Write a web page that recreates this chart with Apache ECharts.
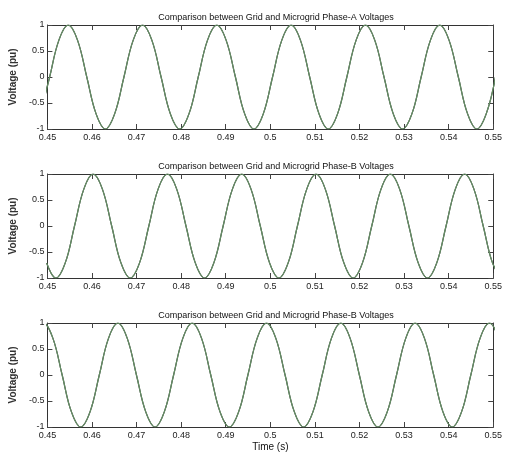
<!DOCTYPE html>
<html>
<head>
<meta charset="utf-8">
<script src="https://cdn.jsdelivr.net/npm/echarts@6/dist/echarts.min.js"></script>
<style>
  html, body { margin: 0; padding: 0; background: #fff; }
  #main { width: 505px; height: 456px; }
</style>
</head>
<body>
<div id="main"></div>
<script>
// sample points (peaks, troughs, crossings, mid-slopes)
var phaseATime = [0.44842, 0.45050, 0.45258, 0.45467, 0.45675, 0.45883, 0.46092, 0.46300, 0.46508, 0.46717,
    0.46925, 0.47133, 0.47342, 0.47550, 0.47758, 0.47967, 0.48175, 0.48383, 0.48592, 0.48800,
    0.49008, 0.49217, 0.49425, 0.49633, 0.49842, 0.50050, 0.50258, 0.50467, 0.50675, 0.50883,
    0.51092, 0.51300, 0.51508, 0.51717, 0.51925, 0.52133, 0.52342, 0.52550, 0.52758, 0.52967,
    0.53175, 0.53383, 0.53592, 0.53800, 0.54008, 0.54217, 0.54425, 0.54633, 0.54842, 0.55050];
var phaseAGrid = [-0.71, 0, 0.71, 1, 0.71, 0, -0.71, -1, -0.71, 0,
    0.71, 1, 0.71, 0, -0.71, -1, -0.71, 0, 0.71, 1,
    0.71, 0, -0.71, -1, -0.71, 0, 0.71, 1, 0.71, 0,
    -0.71, -1, -0.71, 0, 0.71, 1, 0.71, 0, -0.71, -1,
    -0.71, 0, 0.71, 1, 0.71, 0, -0.71, -1, -0.71, 0];
var phaseAMicro = phaseAGrid; // traces sit on top of each other

var phaseBTime = [0.44983, 0.45192, 0.45400, 0.45608, 0.45817, 0.46025, 0.46233, 0.46442, 0.46650, 0.46858,
    0.47067, 0.47275, 0.47483, 0.47692, 0.47900, 0.48108, 0.48317, 0.48525, 0.48733, 0.48942,
    0.49150, 0.49358, 0.49567, 0.49775, 0.49983, 0.50192, 0.50400, 0.50608, 0.50817, 0.51025,
    0.51233, 0.51442, 0.51650, 0.51858, 0.52067, 0.52275, 0.52483, 0.52692, 0.52900, 0.53108,
    0.53317, 0.53525, 0.53733, 0.53942, 0.54150, 0.54358, 0.54567, 0.54775, 0.54983, 0.55192];
var phaseBGrid = [-0.71, -1, -0.71, 0, 0.71, 1, 0.71, 0, -0.71, -1,
    -0.71, 0, 0.71, 1, 0.71, 0, -0.71, -1, -0.71, 0,
    0.71, 1, 0.71, 0, -0.71, -1, -0.71, 0, 0.71, 1,
    0.71, 0, -0.71, -1, -0.71, 0, 0.71, 1, 0.71, 0,
    -0.71, -1, -0.71, 0, 0.71, 1, 0.71, 0, -0.71, -1];
var phaseBMicro = phaseBGrid;

var phaseCTime = [0.44706, 0.44914, 0.45122, 0.45331, 0.45539, 0.45747, 0.45956, 0.46164, 0.46372, 0.46581,
    0.46789, 0.46997, 0.47206, 0.47414, 0.47622, 0.47831, 0.48039, 0.48247, 0.48456, 0.48664,
    0.48872, 0.49081, 0.49289, 0.49497, 0.49706, 0.49914, 0.50122, 0.50331, 0.50539, 0.50747,
    0.50956, 0.51164, 0.51372, 0.51581, 0.51789, 0.51997, 0.52206, 0.52414, 0.52622, 0.52831,
    0.53039, 0.53247, 0.53456, 0.53664, 0.53872, 0.54081, 0.54289, 0.54497, 0.54706, 0.54914, 0.55122];
var phaseCGrid = [0.71, 1, 0.71, 0, -0.71, -1, -0.71, 0, 0.71, 1,
    0.71, 0, -0.71, -1, -0.71, 0, 0.71, 1, 0.71, 0,
    -0.71, -1, -0.71, 0, 0.71, 1, 0.71, 0, -0.71, -1,
    -0.71, 0, 0.71, 1, 0.71, 0, -0.71, -1, -0.71, 0,
    0.71, 1, 0.71, 0, -0.71, -1, -0.71, 0, 0.71, 1, 0.71];
var phaseCMicro = phaseCGrid;

var panelTitles = ["Comparison between Grid and Microgrid Phase-A Voltages",
    "Comparison between Grid and Microgrid Phase-B Voltages",
    "Comparison between Grid and Microgrid Phase-B Voltages"];
var panelTimes = [phaseATime, phaseBTime, phaseCTime];
var panelGrid = [phaseAGrid, phaseBGrid, phaseCGrid];
var panelMicro = [phaseAMicro, phaseBMicro, phaseCMicro];
var panelTops = [25, 174, 323];

var FONT = "'Liberation Sans', Arial, sans-serif";
var frame = {show: true, onZero: false, lineStyle: {color: "#333", width: 1}};
var ticks = {inside: true, length: 5, lineStyle: {color: "#444"}};

function pairs(xs, ys) {
    var out = [];
    for (var i = 0; i < xs.length; i++) out.push([xs[i], ys[i]]);
    return out;
}

var titles = [], grids = [], xAxes = [], yAxes = [], series = [];
for (var p = 0; p < 3; p++) {
    titles.push({
        text: panelTitles[p], left: 271, top: panelTops[p] - 17, textAlign: "center",
        textStyle: {fontFamily: FONT, fontSize: 9, fontWeight: "normal", color: "#111"}
    });
    grids.push({left: 40, right: 8, top: panelTops[p], height: 104});
    // bottom & top x axes (box frame)
    xAxes.push({
        type: "value", gridIndex: p, min: 0.45, max: 0.55, interval: 0.01, position: "bottom",
        axisLine: frame, splitLine: {show: false}, axisTick: ticks,
        axisLabel: {fontFamily: FONT, fontSize: 9, color: "#222", margin: 4},
        name: p === 2 ? "Time (s)" : "", nameLocation: "middle", nameGap: 15,
        nameTextStyle: {fontFamily: FONT, fontSize: 10, color: "#111"}
    });
    xAxes.push({
        type: "value", gridIndex: p, min: 0.45, max: 0.55, interval: 0.01, position: "top",
        axisLine: frame, splitLine: {show: false}, axisTick: ticks,
        axisLabel: {show: false}
    });
    yAxes.push({
        type: "value", gridIndex: p, min: -1, max: 1, interval: 0.5, position: "left",
        axisLine: frame, splitLine: {show: false}, axisTick: ticks,
        axisLabel: {fontFamily: FONT, fontSize: 9, color: "#222", margin: 3},
        name: "Voltage (pu)", nameLocation: "middle", nameGap: 19,
        nameTextStyle: {fontFamily: FONT, fontSize: 10, fontWeight: "bold", color: "#333"}
    });
    yAxes.push({
        type: "value", gridIndex: p, min: -1, max: 1, interval: 0.5, position: "right",
        axisLine: frame, splitLine: {show: false}, axisTick: ticks,
        axisLabel: {show: false}
    });
    series.push({
        name: "Grid", type: "line", xAxisIndex: p * 2, yAxisIndex: p * 2,
        data: pairs(panelTimes[p], panelGrid[p]), showSymbol: false, smooth: 0.4,
        lineStyle: {color: "#2a2a2a", width: 1.2}, animation: false, silent: true
    });
    series.push({
        name: "Microgrid", type: "line", xAxisIndex: p * 2, yAxisIndex: p * 2,
        data: pairs(panelTimes[p], panelMicro[p]), showSymbol: false, smooth: 0.4,
        lineStyle: {color: "#6a9a6a", width: 1.2, opacity: 0.9}, animation: false, silent: true
    });
}

var myChart = echarts.init(document.getElementById("main"));
myChart.setOption({
    backgroundColor: "#fff",
    animation: false,
    title: titles,
    grid: grids,
    xAxis: xAxes,
    yAxis: yAxes,
    series: series
});
</script>
</body>
</html>
